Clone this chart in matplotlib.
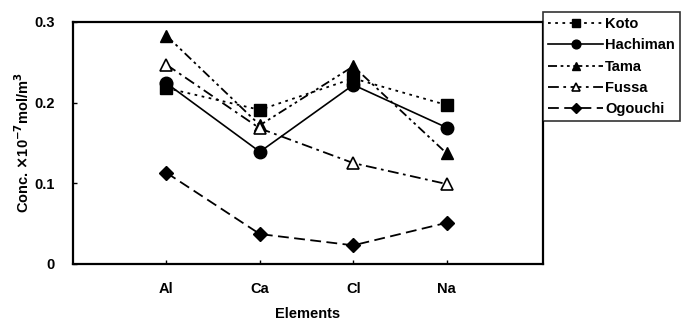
import matplotlib
matplotlib.use('Agg')
import matplotlib.pyplot as plt
import numpy as np

plt.rcParams['font.family'] = ['Liberation Sans', 'DejaVu Sans']
plt.rcParams['font.weight'] = 'bold'

elements = ['Al', 'Ca', 'Cl', 'Na']
koto = [0.218, 0.191, 0.230, 0.197]
hachiman = [0.224, 0.139, 0.222, 0.169]
tama = [0.283, 0.172, 0.245, 0.137]
fussa = [0.247, 0.168, 0.125, 0.099]
ogouchi = [0.113, 0.037, 0.023, 0.051]

x = np.arange(1, len(elements) + 1)

fig = plt.figure(figsize=(6.89, 3.23), dpi=100)
ax = fig.add_axes([0.106, 0.183, 0.682, 0.749])

ax.plot(x, koto, color='k', ls=(0, (1.5, 2.5)), lw=1.3, marker='s', ms=8, label='Koto')
ax.plot(x, hachiman, color='k', ls='-', lw=1.2, marker='o', ms=9, label='Hachiman')
ax.plot(x, tama, color='k', ls=(0, (5, 2, 1.5, 2, 1.5, 2)), lw=1.3, marker='^', ms=9, label='Tama')
ax.plot(x, fussa, color='k', ls=(0, (6, 2.5, 1.5, 2.5)), lw=1.3, marker='^', ms=9,
        mfc='white', mew=1.2, label='Fussa')
ax.plot(x, ogouchi, color='k', ls=(0, (6, 3)), lw=1.3, marker='D', ms=7, label='Ogouchi')

ax.set_xlim(0, 5.03)
ax.set_ylim(0, 0.3)
ax.set_xticks(x)
ax.set_xticklabels(elements)
ax.set_yticks([0, 0.1, 0.2, 0.3])
ax.set_yticklabels(['0', '0.1', '0.2', '0.3'])
ax.tick_params(direction='in', length=3, labelsize=10.5, width=1)
ax.tick_params(axis='x', pad=13)
ax.tick_params(axis='y', pad=13)
for s in ax.spines.values():
    s.set_linewidth(1.6)

ax.set_xlabel('Elements', fontsize=10.5, fontweight='bold', labelpad=8)
ax.set_ylabel(r'Conc. $\times$10$^{-7}$mol/m$^{3}$', fontsize=10.5, fontweight='bold', labelpad=2)

leg = fig.legend(loc='upper left', bbox_to_anchor=(0.788, 0.963), fontsize=10.5,
                 frameon=True, fancybox=False, edgecolor='k', handlelength=3.8,
                 handletextpad=0.1, labelspacing=0.5, borderpad=0.35, borderaxespad=0,
                 markerscale=0.7)
leg.get_frame().set_linewidth(1.2)

fig.savefig('out.png', dpi=100)
